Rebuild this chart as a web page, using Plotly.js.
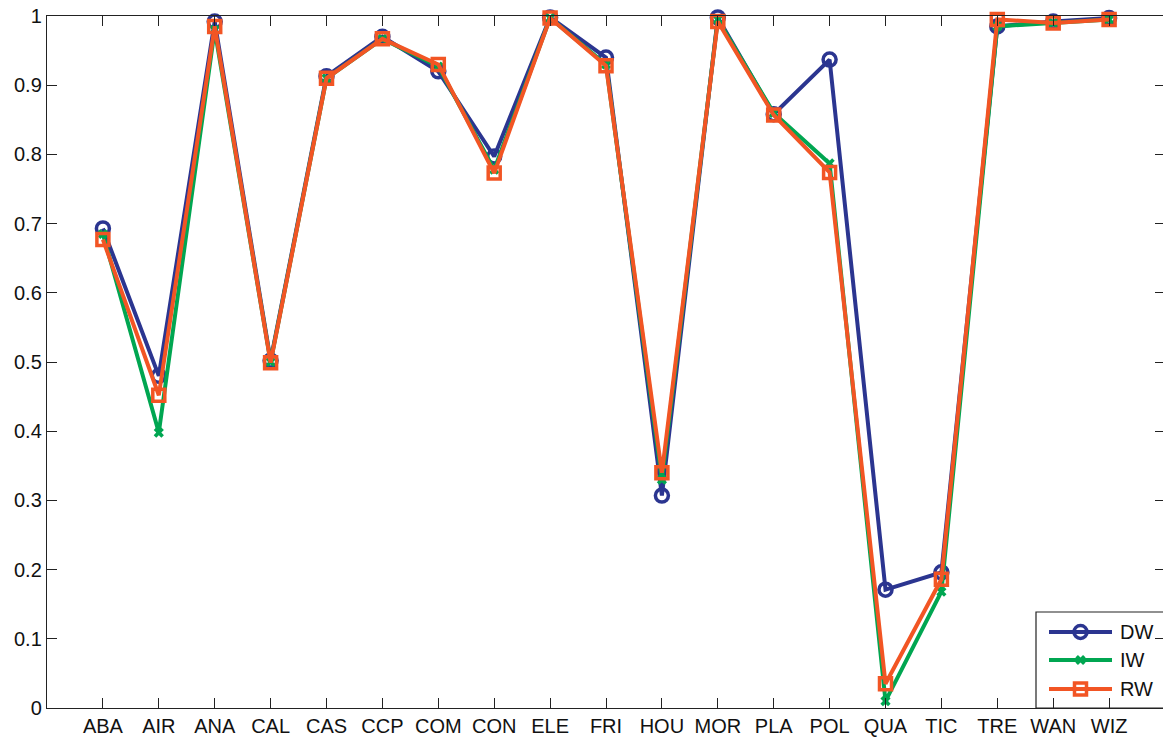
<!DOCTYPE html>
<html><head><meta charset="utf-8">
<script src="https://cdn.plot.ly/plotly-3.0.1.min.js"></script>
<style>html,body{margin:0;padding:0;background:#fff;overflow:hidden}#chart{width:1165px;height:741px}</style>
</head><body><div id="chart"></div>
<script>
const categories = ["ABA","AIR","ANA","CAL","CAS","CCP","COM","CON","ELE","FRI","HOU","MOR","PLA","POL","QUA","TIC","TRE","WAN","WIZ"];
const dwValues = [0.693,0.480,0.992,0.502,0.913,0.970,0.920,0.797,0.998,0.940,0.307,0.998,0.858,0.937,0.171,0.196,0.985,0.992,0.997];
const iwValues = [0.685,0.398,0.980,0.500,0.910,0.967,0.927,0.778,0.997,0.930,0.330,0.995,0.860,0.787,0.010,0.168,0.985,0.990,0.995];
const rwValues = [0.677,0.452,0.985,0.499,0.910,0.967,0.930,0.773,0.997,0.928,0.340,0.992,0.857,0.774,0.035,0.186,0.995,0.990,0.995];
const seriesNames = ["DW","IW","RW"];
const yTicks = [0,0.1,0.2,0.3,0.4,0.5,0.6,0.7,0.8,0.9,1];
const yTickLabels = ["0","0.1","0.2","0.3","0.4","0.5","0.6","0.7","0.8","0.9","1"];

const blue = "#2b3590", green = "#00a651", orange = "#f25524";
const colors = [blue, green, orange];
const markers = [
  {symbol: "circle-open", size: 13, lw: 3.5},
  {symbol: "x", size: 9, lw: 0},
  {symbol: "square-open", size: 12, lw: 3.5}
];
const seriesValues = [dwValues, iwValues, rwValues];

const traces = seriesValues.map((vals, i) => ({
  x: categories, y: vals, name: seriesNames[i], mode: "lines+markers", showlegend: false,
  xaxis: "x", yaxis: "y", cliponaxis: false,
  line: {color: colors[i], width: 4},
  marker: {symbol: markers[i].symbol, size: markers[i].size, color: colors[i],
           line: {width: markers[i].lw, color: colors[i]}}
}));

// custom legend: sample lines drawn in a small hidden helper subplot
const legendRows = [0.792, 0.5, 0.198];
seriesNames.forEach((n, i) => {
  traces.push({
    x: [0, 1], y: [legendRows[i], legendRows[i]],
    xaxis: "x2", yaxis: "y2", mode: "lines", showlegend: false, hoverinfo: "skip", cliponaxis: false,
    line: {color: colors[i], width: 4}
  });
  traces.push({
    x: [0.5], y: [legendRows[i]],
    xaxis: "x2", yaxis: "y2", mode: "markers", showlegend: false, hoverinfo: "skip", cliponaxis: false,
    marker: {symbol: markers[i].symbol, size: markers[i].size, color: colors[i],
             line: {width: markers[i].lw, color: colors[i]}}
  });
});

const font = {family: "Liberation Sans, Arial, Helvetica, sans-serif", size: 20, color: "#111"};
const legendBottom = 0, legendTop = 0.1387;
const W = 1165;
const plotW = W - 47;
const px = v => (v - 47) / plotW;
const layout = {
  width: W, height: 741,
  margin: {l: 47, r: 0, t: 16, b: 33, pad: 0},
  paper_bgcolor: "#fff", plot_bgcolor: "rgba(0,0,0,0)",
  font: font,
  showlegend: false,
  xaxis: {type: "category", range: [-1, 19], tickmode: "array", tickvals: categories, ticktext: categories,
    ticks: "inside", ticklen: 10, tickwidth: 1, tickcolor: "#222",
    showline: true, linecolor: "#222", linewidth: 1.2, mirror: "ticks",
    showgrid: false, zeroline: false, tickfont: font, fixedrange: true},
  yaxis: {range: [0, 1], tickmode: "array", tickvals: yTicks, ticktext: yTickLabels,
    ticks: "inside", ticklen: 10, tickwidth: 1, tickcolor: "#222",
    showline: true, linecolor: "#222", linewidth: 1.2, mirror: "ticks",
    showgrid: false, zeroline: false, tickfont: font, fixedrange: true},
  xaxis2: {domain: [px(1049), px(1112)], range: [0, 1], anchor: "y2", visible: false, fixedrange: true},
  yaxis2: {domain: [legendBottom, legendTop], range: [0, 1], anchor: "x2", visible: false, fixedrange: true},
  shapes: [{type: "rect", xref: "paper", yref: "paper", x0: px(1036), x1: 1.01, y0: legendBottom, y1: legendTop,
    line: {color: "#222", width: 1.2}, fillcolor: "rgba(0,0,0,0)", layer: "below"}],
  annotations: seriesNames.map((n, i) => ({
    text: n, xref: "paper", yref: "paper", x: px(1118), y: legendBottom + legendRows[i] * (legendTop - legendBottom),
    xanchor: "left", yanchor: "middle", showarrow: false, font: font
  }))
};
Plotly.newPlot("chart", traces, layout, {displayModeBar: false, staticPlot: true});
</script></body></html>
